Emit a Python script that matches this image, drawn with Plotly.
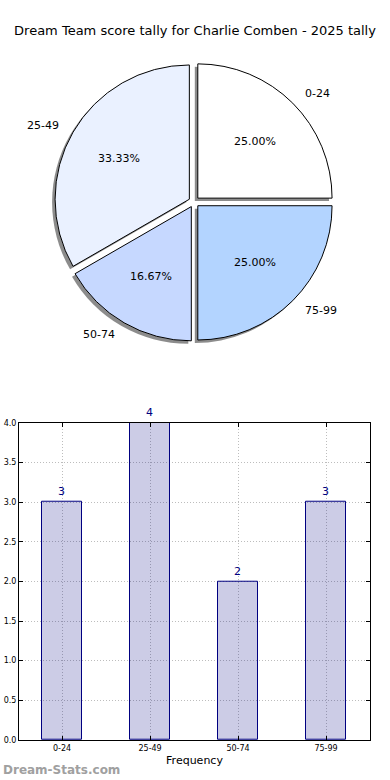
import math
import plotly.graph_objects as go

categories = ["0-24", "25-49", "50-74", "75-99"]
counts = [3, 4, 2, 3]
pie_colors = ["#ffffff", "#eaf1ff", "#c6d8ff", "#b3d4ff"]
title_text = "Dream Team score tally for Charlie Comben - 2025 tally"

W, H = 390, 780
ML, MR, MT, MB = 19, 20, 0, 40
PW, PH = W - ML - MR, H - MT - MB

def fx(px):
    return (px - ML) / PW

def fy(py):
    return (H - MB - py) / PH

# pie geometry (pixels)
CX, CY, R = 194, 199, 135
PULL = 0.04
half = R * (1 + PULL)

fig = go.Figure()

# shadow
sh = 3
fig.add_trace(go.Pie(
    labels=categories, values=counts, sort=False, direction="counterclockwise",
    rotation=0, pull=[PULL] * 4, textinfo="none", hoverinfo="skip",
    marker=dict(colors=["rgba(0,0,0,0.45)"] * 4, line=dict(width=0)),
    domain=dict(x=[fx(CX - sh - half), fx(CX - sh + half)],
                y=[fy(CY + sh + half), fy(CY + sh - half)]),
    showlegend=False,
))
fig.add_trace(go.Pie(
    labels=categories, values=counts, sort=False, direction="counterclockwise",
    rotation=0, pull=[PULL] * 4, textinfo="none",
    marker=dict(colors=pie_colors, line=dict(color="black", width=1)),
    domain=dict(x=[fx(CX - half), fx(CX + half)],
                y=[fy(CY + half), fy(CY - half)]),
    showlegend=False,
))

total = sum(counts)
annotations = []
start = 0.0
for cat, v in zip(categories, counts):
    span = 360.0 * v / total
    mid = math.radians(start + span / 2)
    start += span
    c, s = math.cos(mid), math.sin(mid)
    lr = (1.1 + PULL) * R
    lx, ly = CX + lr * c, CY - lr * s
    annotations.append(dict(
        x=fx(lx), y=fy(ly), xref="paper", yref="paper", text=cat, showarrow=False,
        xanchor="left" if c > 0 else "right", yanchor="middle",
        font=dict(family="DejaVu Sans", size=11, color="black"),
    ))
    pr = (0.6 + PULL) * R
    px_, py_ = CX + pr * c, CY - pr * s
    annotations.append(dict(
        x=fx(px_), y=fy(py_), xref="paper", yref="paper",
        text="%.2f%%" % (100.0 * v / total), showarrow=False,
        xanchor="center", yanchor="middle",
        font=dict(family="DejaVu Sans", size=11, color="black"),
    ))

annotations.append(dict(
    x=fx(1), y=fy(770), xref="paper", yref="paper", text="<b>Dream-Stats.com</b>",
    showarrow=False, xanchor="left", yanchor="middle",
    font=dict(family="DejaVu Sans", size=12, color="#a0a0a0"),
))

fig.add_trace(go.Bar(
    x=categories, y=counts, width=0.45,
    marker=dict(color="rgba(0,0,128,0.2)", line=dict(color="#000080", width=1)),
    text=[str(v) for v in counts], textposition="outside", cliponaxis=False,
    textfont=dict(family="DejaVu Sans", size=11, color="#000080"),
    showlegend=False, xaxis="x", yaxis="y",
))

grid = dict(showgrid=True, gridcolor="#bdbdbd", griddash="1px,2px", gridwidth=1)
fig.update_layout(
    width=W, height=H,
    margin=dict(l=ML, r=MR, t=MT, b=MB),
    paper_bgcolor="white", plot_bgcolor="white",
    title=dict(text=title_text, x=0.5, xanchor="center", y=1 - 30 / H, yanchor="middle",
               font=dict(family="DejaVu Sans", size=13, color="black")),
    xaxis=dict(domain=[0, 1], range=[-0.49, 3.5], type="category",
               showline=True, linecolor="black", linewidth=1, mirror="ticks",
               ticks="inside", ticklen=4, tickcolor="black",
               tickfont=dict(family="DejaVu Sans", size=8, color="black"),
               title=dict(text="Frequency", font=dict(family="DejaVu Sans", size=11, color="black"),
                          standoff=4),
               zeroline=False, **grid),
    yaxis=dict(domain=[0, fy(421)], range=[0, 4], tickvals=[0, 0.5, 1, 1.5, 2, 2.5, 3, 3.5, 4],
               ticktext=["0.0", "0.5", "1.0", "1.5", "2.0", "2.5", "3.0", "3.5", "4.0"],
               showline=True, linecolor="black", linewidth=1, mirror="ticks",
               ticks="inside", ticklen=4, tickcolor="black",
               tickfont=dict(family="DejaVu Sans", size=8, color="black"),
               zeroline=False, **grid),
    annotations=annotations,
    bargap=0,
)

fig.write_html("out.html", config={"displayModeBar": False},
               post_script="document.body.style.margin='0';")
